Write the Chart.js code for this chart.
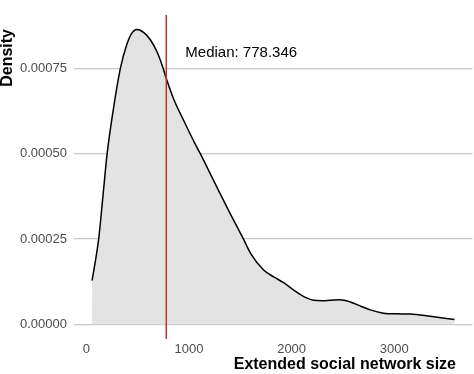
<!DOCTYPE html>
<html>
<head>
<meta charset="utf-8">
<script src="https://cdn.jsdelivr.net/npm/chart.js@4/dist/chart.umd.min.js"></script>
<style>
  html, body { margin: 0; padding: 0; background: #ffffff; }
  #wrap { width: 474px; height: 374px; }
</style>
</head>
<body>
<div id="wrap"><canvas id="c" width="474" height="374"></canvas></div>
<script>
// ---- Data ----
const networkSize = [55, 90, 120, 160, 202, 260, 331, 396, 440, 494, 560, 623, 689, 743, 779, 850, 950, 1052, 1110, 1250, 1400, 1530, 1600, 1727, 1830, 1922, 2052, 2140, 2214, 2300, 2377, 2474, 2571, 2680, 2766, 2896, 3030, 3156, 3351, 3587];
const densityValues = [0.000128, 0.000190, 0.000251, 0.000372, 0.000500, 0.000625, 0.000750, 0.000822, 0.000852, 0.000864, 0.000855, 0.000834, 0.000798, 0.000755, 0.000720, 0.000660, 0.000596, 0.000533, 0.000500, 0.000415, 0.000325, 0.000250, 0.000208, 0.000159, 0.000138, 0.000122, 0.0000937, 0.0000780, 0.0000703, 0.0000690, 0.0000703, 0.0000720, 0.0000655, 0.0000520, 0.0000422, 0.0000326, 0.0000305, 0.0000298, 0.0000233, 0.0000141];
const xTickValues = [0, 1000, 2000, 3000];
const yTickValues = [0, 0.00025, 0.0005, 0.00075];
const medianValue = 778.346;
const xTitle = 'Extended social network size';
const yTitle = 'Density';

// ---- Scale limits (ggplot-style 5% expansion) ----
const xMin = -121, xMax = 3763;
const yMin = -0.0000432, yMax = 0.000907;
const medianLabelPos = { x: 964, y: 0.000783 };

const FONT = '"Liberation Sans", Arial, Helvetica, sans-serif';

const densityPoints = networkSize.map((x, i) => ({ x: x, y: densityValues[i] }));
const medianPoints = [{ x: medianValue, y: yMin }, { x: medianValue, y: yMax }];

const annotations = {
  id: 'annotations',
  afterDraw(chart) {
    const ctx = chart.ctx;
    const xs = chart.scales.x, ys = chart.scales.y;
    ctx.save();
    ctx.fillStyle = '#000000';
    ctx.font = '15px ' + FONT;
    ctx.textAlign = 'left';
    ctx.textBaseline = 'alphabetic';
    ctx.fillText('Median: ' + medianValue, xs.getPixelForValue(medianLabelPos.x), ys.getPixelForValue(medianLabelPos.y));
    ctx.font = 'bold 16px ' + FONT;
    ctx.textAlign = 'right';
    ctx.textBaseline = 'middle';
    ctx.fillText(xTitle, 456, 365);
    ctx.translate(8, 29);
    ctx.rotate(-Math.PI / 2);
    ctx.textAlign = 'right';
    ctx.textBaseline = 'middle';
    ctx.fillText(yTitle, 0, 0);
    ctx.restore();
  }
};

new Chart(document.getElementById('c'), {
  type: 'line',
  data: {
    datasets: [
      {
        label: 'Median',
        data: medianPoints,
        borderColor: '#c8302f',
        borderWidth: 1.5,
        pointRadius: 0,
        fill: false,
        order: 0
      },
      {
        label: 'Density',
        data: densityPoints,
        borderColor: '#000000',
        borderWidth: 1.5,
        backgroundColor: '#e3e3e3',
        fill: 'origin',
        pointRadius: 0,
        cubicInterpolationMode: 'monotone',
        order: 1
      }
    ]
  },
  options: {
    responsive: false,
    animation: false,
    events: [],
    layout: { padding: { top: 1, right: 1.5, left: 0, bottom: 0 } },
    plugins: {
      legend: { display: false },
      tooltip: { enabled: false },
      title: { display: false }
    },
    scales: {
      x: {
        type: 'linear',
        min: xMin,
        max: xMax,
        grid: { display: false, drawTicks: false },
        border: { display: false },
        ticks: {
          font: { family: FONT, size: 13 },
          color: '#4d4d4d',
          padding: 3,
          maxRotation: 0,
          autoSkip: false,
          callback: v => String(v)
        },
        afterBuildTicks: s => { s.ticks = xTickValues.map(v => ({ value: v })); },
        afterFit: s => { s.height = 35; }
      },
      y: {
        type: 'linear',
        min: yMin,
        max: yMax,
        grid: { color: '#c9c9c9', lineWidth: 1.2, drawTicks: false },
        border: { display: false },
        ticks: {
          font: { family: FONT, size: 13 },
          color: '#4d4d4d',
          padding: 7,
          callback: v => Number(v).toFixed(5)
        },
        afterBuildTicks: s => { s.ticks = yTickValues.map(v => ({ value: v })); },
        afterFit: s => { s.width = 74; }
      }
    }
  },
  plugins: [annotations]
});
</script>
</body>
</html>
